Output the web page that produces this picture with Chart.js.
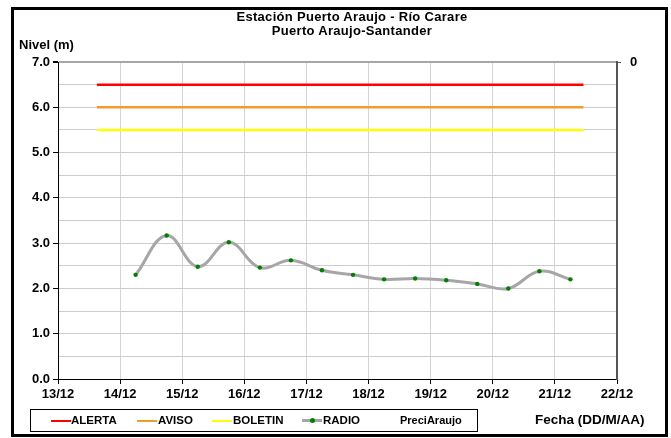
<!DOCTYPE html>
<html><head><meta charset="utf-8">
<script src="https://cdn.jsdelivr.net/npm/chart.js@4"></script>
<style>
html,body{margin:0;padding:0;background:#fff;}
#wrap{position:relative;width:671px;height:438px;overflow:hidden;font-family:"Liberation Sans",Arial,sans-serif;font-weight:bold;color:#000;}
canvas{position:absolute;left:0;top:0;}
.t{position:absolute;white-space:nowrap;}
#frame{position:absolute;left:11px;top:7px;width:657px;height:430px;border:3px solid #000;box-sizing:border-box;}
#title{left:0;width:704px;top:10px;text-align:center;font-size:13px;line-height:14px;letter-spacing:0.3px;}
#ylab{left:19px;top:37px;font-size:13px;line-height:15px;}
#xlab{left:535px;top:412px;font-size:13.5px;}
#legend{position:absolute;left:30px;top:409px;width:448px;height:23px;border:1px solid #000;box-sizing:border-box;font-size:11.5px;}
.li{position:absolute;top:0;line-height:21px;}
.sw{position:absolute;top:10px;height:2px;width:20px;}
.dot{position:absolute;top:8px;width:5px;height:5px;border-radius:50%;background:#008000;}
</style></head>
<body><div id="wrap">
<canvas id="c" width="671" height="438"></canvas>
<div id="frame"></div>
<div class="t" id="title">Estación Puerto Araujo - Río Carare<br>Puerto Araujo-Santander</div>
<div class="t" id="ylab">Nivel (m)</div>
<div class="t" id="xlab">Fecha (DD/M/AA)</div>
<div id="legend"></div>
</div>
<script>
// ---- data ----
const dayLabels = ['13/12','14/12','15/12','16/12','17/12','18/12','19/12','20/12','21/12','22/12'];
const radioTimes = ['14/12 06:00','14/12 18:00','15/12 06:00','15/12 18:00','16/12 06:00','16/12 18:00',
  '17/12 06:00','17/12 18:00','18/12 06:00','18/12 18:00','19/12 06:00','19/12 18:00',
  '20/12 06:00','20/12 18:00','21/12 06:00'];
const radioLevels = [2.30,3.17,2.48,3.02,2.46,2.62,2.40,2.30,2.20,2.22,2.18,2.10,2.00,2.38,2.20];
const thresholdNames = ['ALERTA','AVISO','BOLETIN'];
const thresholdValues = [6.5,6.0,5.5];
const thresholdSpan = ['13/12 15:00','21/12 11:00'];
const levelTicks = [0,1,2,3,4,5,6,7];
const precipTicks = [0];

// ---- styles ----
const thresholdColors = ['#ff0000','#f39a2b','#ffff00'];
const FONT = {family:'"Liberation Sans", Arial, sans-serif', size:13, weight:'bold'};

const parseT = s => {
  const [d,h] = s.split(' ');
  const [hh,mm] = (h||'00:00').split(':').map(Number);
  return dayLabels.indexOf(d) + hh/24 + mm/1440;
};

const datasets = thresholdNames.map((name,i)=>({
  label:name,
  data: thresholdSpan.map(t=>({x:parseT(t), y:thresholdValues[i]})),
  borderColor: thresholdColors[i], borderWidth:2.5, pointRadius:0, tension:0, yAxisID:'y'
}));
datasets.push({
  label:'RADIO',
  data: radioTimes.map((t,i)=>({x:parseT(t), y:radioLevels[i]})),
  borderColor:'#a6a6a6', borderWidth:3, tension:0.4, yAxisID:'y',
  pointRadius:2.2, pointBackgroundColor:'#008000', pointBorderColor:'#008000', pointBorderWidth:0
});

new Chart(document.getElementById('c'), {
  type:'line',
  data:{datasets},
  options:{
    responsive:false, animation:false, devicePixelRatio:1,
    layout:{padding:{top:62,bottom:29,left:0,right:0}},
    plugins:{legend:{display:false}, tooltip:{enabled:false}},
    scales:{
      x:{type:'linear', min:0, max:dayLabels.length-1,
        ticks:{stepSize:1, autoSkip:false, maxRotation:0, color:'#000', font:FONT, padding:3,
          callback:v=>dayLabels[v] ?? ''},
        grid:{color:'#d4d4d4', lineWidth:1, tickColor:'#000', tickLength:5},
        border:{color:'#000', width:1},
        afterFit:s=>{s.height=30;}
      },
      y:{min:0, max:7, position:'left',
        ticks:{stepSize:0.5, autoSkip:false, color:'#000', font:FONT, padding:3,
          callback:v=> levelTicks.includes(v) ? v.toFixed(1) : ''},
        grid:{
          color:ctx=> (ctx.tick && ctx.tick.value===7) ? '#a6a6a6' : '#cccccc',
          lineWidth:ctx=> (ctx.tick && ctx.tick.value===7) ? 2 : 1,
          tickColor:ctx=> (ctx.tick && levelTicks.includes(ctx.tick.value)) ? '#000' : 'rgba(0,0,0,0)',
          tickLength:5},
        border:{color:'#000', width:1},
        afterFit:s=>{s.width=58;}
      },
      y2:{min:0, max:1, position:'right', reverse:true, display:true,
        ticks:{stepSize:1, color:'#000', font:FONT, padding:9,
          callback:v=> precipTicks.includes(v) ? String(v) : ''},
        grid:{drawOnChartArea:false, tickLength:4,
          tickColor:ctx=> (ctx.tick && precipTicks.includes(ctx.tick.value)) ? '#555' : 'rgba(0,0,0,0)'},
        border:{color:'#555', width:2},
        afterFit:s=>{s.width=54;}
      }
    }
  }
});

// ---- HTML legend ----
const legend = document.getElementById('legend');
const legendItems = [
  {name:thresholdNames[0], color:thresholdColors[0], sw:20, tx:40},
  {name:thresholdNames[1], color:thresholdColors[1], sw:106, tx:127},
  {name:thresholdNames[2], color:thresholdColors[2], sw:181, tx:202},
  {name:'RADIO', color:'#a6a6a6', sw:271, tx:292, dot:true},
  {name:'PreciAraujo', color:null, tx:369}
];
legendItems.forEach(it=>{
  if(it.color){
    const s=document.createElement('div'); s.className='sw';
    s.style.left=it.sw+'px'; s.style.background=it.color;
    if(it.dot){ s.style.height='3px'; s.style.top='9px'; }
    legend.appendChild(s);
    if(it.dot){ const d=document.createElement('div'); d.className='dot'; d.style.left=(it.sw+8)+'px'; legend.appendChild(d); }
  }
  const t=document.createElement('div'); t.className='li'; t.style.left=it.tx+'px'; t.textContent=it.name;
  if(!it.color){ t.style.fontSize='11px'; }
  legend.appendChild(t);
});
</script>
</body></html>
